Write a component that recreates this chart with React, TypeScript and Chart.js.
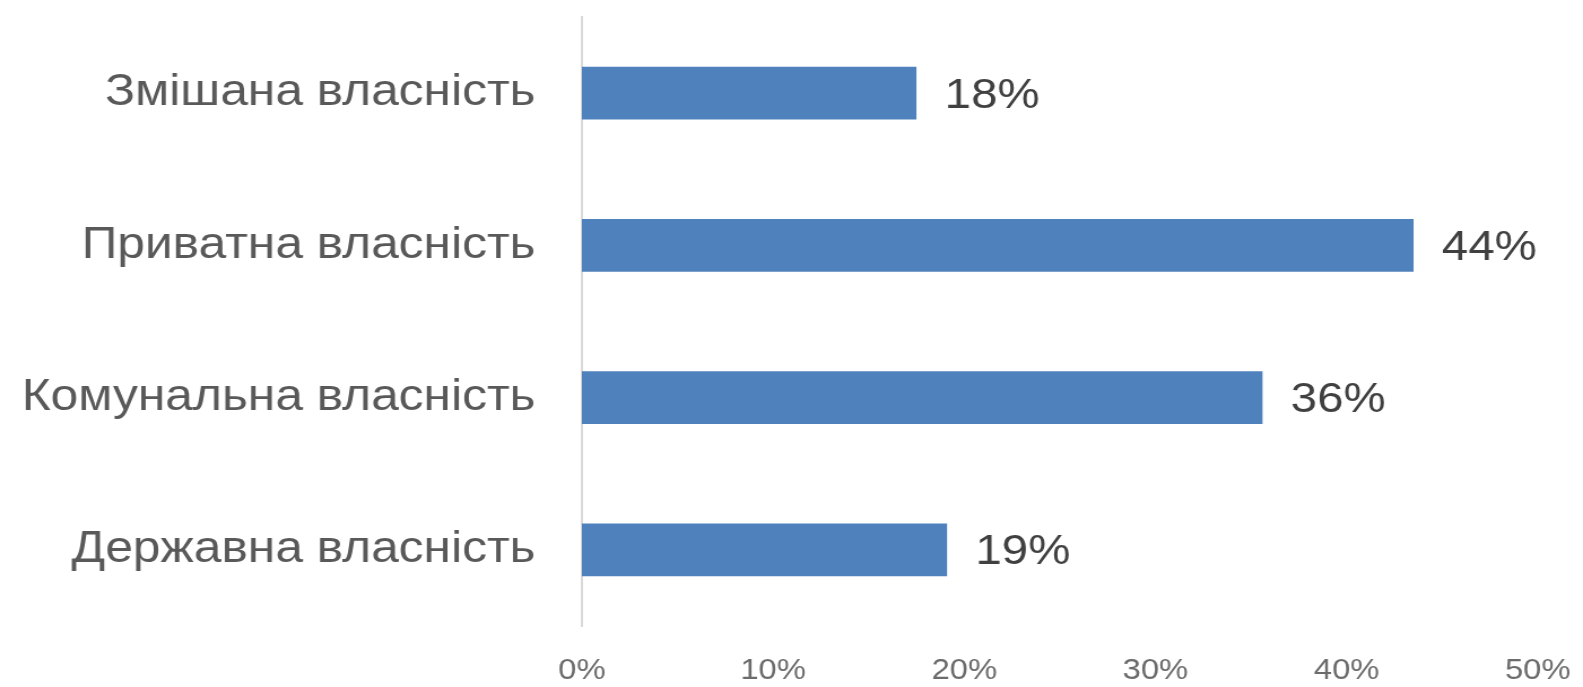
import React, { useEffect, useRef } from "react";
import { Chart, registerables } from "chart.js";

Chart.register(...registerables);

const categories = [
  "Змішана власність",
  "Приватна власність",
  "Комунальна власність",
  "Державна власність",
];
const values = [17.5, 43.5, 35.6, 19.1];
const tickValues = [0, 10, 20, 30, 40, 50];

const W = 1583;
const H = 687;
const SX = 1.13; // horizontal stretch of the reference rendering
const CW = Math.round(W / SX);

const valueLabels = {
  id: "valueLabels",
  afterDatasetsDraw(chart: any) {
    const ctx = chart.ctx;
    const meta = chart.getDatasetMeta(0);
    ctx.save();
    ctx.font = '42px "Liberation Sans", Arial, sans-serif';
    ctx.fillStyle = "#404040";
    ctx.textAlign = "left";
    ctx.textBaseline = "middle";
    meta.data.forEach((bar: any, i: number) => {
      const v = chart.data.datasets[0].data[i];
      ctx.fillText(Math.round(v) + "%", bar.x + 25, bar.y + 3);
    });
    ctx.restore();
  },
};

export default function App() {
  const ref = useRef<HTMLCanvasElement>(null);
  useEffect(() => {
    if (!ref.current) return;
    const chart = new Chart(ref.current, {
      type: "bar",
      data: {
        labels: categories,
        datasets: [
          {
            data: values,
            backgroundColor: "#4f81bd",
            borderWidth: 0,
            barPercentage: 0.348,
            categoryPercentage: 1,
          },
        ],
      },
      options: {
        indexAxis: "y",
        animation: false,
        responsive: false,
        maintainAspectRatio: false,
        layout: { padding: { top: 17, right: Math.round(45 / SX), left: 0, bottom: 0 } },
        plugins: {
          legend: { display: false },
          tooltip: { enabled: false },
        },
        scales: {
          x: {
            min: 0,
            max: 50,
            afterFit: (s: any) => {
              s.height = H - 626;
              s.paddingLeft = 0;
              s.paddingRight = 0;
            },
            afterBuildTicks: (s: any) => {
              s.ticks = tickValues.map((v) => ({ value: v }));
            },
            grid: { display: false, drawTicks: false },
            border: { display: false },
            ticks: {
              padding: 28,
              color: "#6b6b6b",
              font: { family: '"Liberation Sans", Arial, sans-serif', size: 29 },
              callback: (v: any) => v + "%",
            },
          },
          y: {
            afterFit: (s: any) => {
              s.width = Math.round(582 / SX);
              s.paddingTop = 0;
              s.paddingBottom = 0;
            },
            grid: { display: false, drawTicks: false },
            border: { display: true, color: "#d9d9d9", width: 2 },
            ticks: {
              padding: Math.round(46 / SX),
              color: "#595959",
              font: { family: '"Liberation Sans", Arial, sans-serif', size: 44 },
            },
          },
        },
      },
      plugins: [valueLabels],
    });
    return () => chart.destroy();
  }, []);
  return (
    <div style={{ position: "fixed", left: 0, top: 0, width: W, height: H, background: "#fff" }}>
      <canvas
        ref={ref}
        width={CW}
        height={H}
        style={{ display: "block", width: W + "px", height: H + "px" }}
      />
    </div>
  );
}
